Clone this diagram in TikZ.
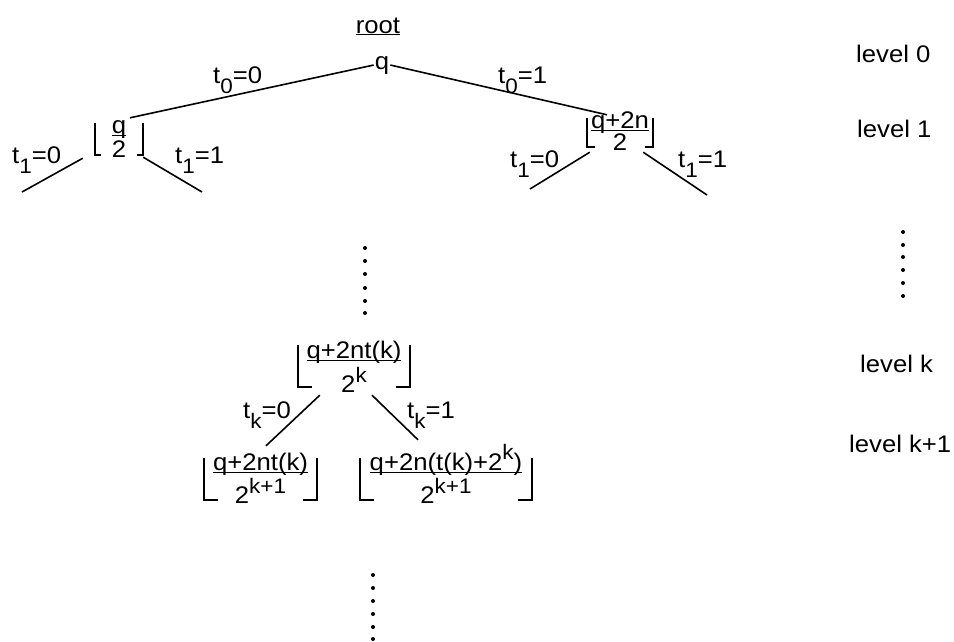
\documentclass[tikz,border=0pt]{standalone}
\usepackage{fontspec}
\setmainfont{Liberation Sans}[FakeStretch=1.07]
\usetikzlibrary{calc}
\newcommand{\lo}[1]{\raisebox{-0.42em}{\fontsize{21}{21}\selectfont #1}}
\newcommand{\hi}[1]{\raisebox{0.42em}{\fontsize{21}{21}\selectfont #1}}
\newcommand{\fr}[3]{{\renewcommand{\arraystretch}{0}\setlength{\arrayrulewidth}{1.2pt}%
  \begin{tabular}[t]{@{}c@{}}\raisebox{0pt}[\height][0pt]{#2}\\[2pt]\hline\rule{0pt}{#1pt}#3\end{tabular}}}
\begin{document}
\begin{tikzpicture}[x=1pt,y=-1pt,font=\fontsize{24}{28}\selectfont,
  edge/.style={line width=1.6pt},
  brk/.style={line width=1.5pt},
  fl/.style={inner sep=0pt},
  lab/.style={anchor=base west,inner sep=0pt},
  dot/.style={fill=black}]
\useasboundingbox (0,0) rectangle (954,641);

% nodes
\node[anchor=base] (root) at (378,33) {\underline{root}};
\node[anchor=base,inner sep=1pt] (q) at (382,69) {q};
\node[fl,minimum width=48pt,text height=10pt,text depth=22pt] (h1) at (119,139) {\fr{21}{q}{2}};
\node[fl,minimum width=66pt,text height=10pt,text depth=19pt] (h1r) at (620,132.5) {\fr{19}{q+2n}{2}};
\node[fl,minimum width=112pt,text height=13pt,text depth=29pt] (hk) at (354,366) {\fr{31}{q+2nt(k)}{2\hi{k}}};
\node[fl,minimum width=113pt,text height=12pt,text depth=30pt] (hl) at (260.5,479) {\fr{30}{q+2nt(k)}{2\hi{k+1}}};
\node[fl,minimum width=172pt,text height=12pt,text depth=30pt] (hr) at (446,479) {\fr{30}{q+2n(t(k)+2\hi{k})}{2\hi{k+1}}};

% floor brackets
\foreach \n/\f in {h1/6,h1r/8,hk/14,hl/14,hr/14}{
  \draw[brk] (\n.north west) -- (\n.south west) -- ++(\f,0);
  \draw[brk] (\n.north east) -- (\n.south east) -- ++(-\f,0);
}

% free ends
\coordinate (a1) at (22,192);
\coordinate (b1) at (202,192);
\coordinate (a2) at (530,189);
\coordinate (b2) at (707,195);

% connectors
\draw[edge] (q.west) -- ($(h1.north)+(11,-5)$);
\draw[edge] (q.east) -- ($(h1r.north)+(-13,-3)$);
\draw[edge] ($(h1.south west)+(-12,3)$) -- (a1);
\draw[edge] ($(h1.south east)+(0,2)$) -- (b1);
\draw[edge] ($(h1r.south west)+(3,5)$) -- (a2);
\draw[edge] ($(h1r.south east)+(-10,5)$) -- (b2);
\draw[edge] ($(hk.south west)+(22,8)$) -- ($(hl.north)+(5.5,-12)$);
\draw[edge] ($(hk.south)+(18,8)$) -- ($(hr.north)+(-28,-18)$);

% edge labels
\node[lab] (e00) at (213,83) {t\lo{0}=0};
\node[lab] (e01) at (498,83) {t\lo{0}=1};
\node[lab] (e10) at (12,163) {t\lo{1}=0};
\node[lab] (e11) at (175,163) {t\lo{1}=1};
\node[lab] (e20) at (510,167) {t\lo{1}=0};
\node[lab] (e21) at (678,167) {t\lo{1}=1};
\node[lab] (ek0) at (243,418) {t\lo{k}=0};
\node[lab] (ek1) at (407,418) {t\lo{k}=1};

% level labels
\node[lab] (l0) at (856,62) {level 0};
\node[lab] (l1) at (857,137) {level 1};
\node[lab] (lk) at (860,372) {level k};
\node[lab] (lk1) at (849,452) {level k+1};

% vertical dots
\foreach \y in {248,261,274,288,301,313} \fill[dot] (365,\y) circle[radius=2pt];
\foreach \y in {232,245,257,270,283,296} \fill[dot] (903,\y) circle[radius=2pt];
\foreach \y in {575,588,601,614,627,639} \fill[dot] (373,\y) circle[radius=2pt];
\end{tikzpicture}
\end{document}
